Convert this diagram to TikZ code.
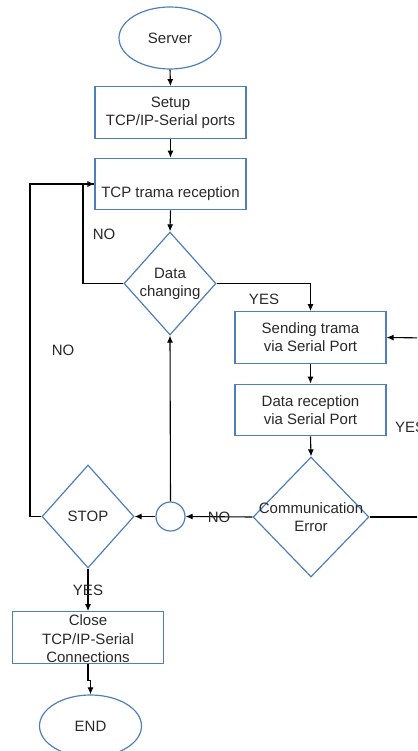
\documentclass[tikz,border=0pt]{standalone}
\usepackage{fontspec}
\setmainfont{Liberation Sans}
\usetikzlibrary{shapes.geometric,arrows.meta}
\definecolor{boxblue}{RGB}{79,127,187}
\definecolor{ink}{RGB}{40,40,40}
\tikzset{
  base/.style={draw=boxblue, line width=1.2pt, inner sep=0pt, text=ink, align=center},
  procbox/.style={base, rectangle, minimum width=151pt, minimum height=51.5pt},
  termnode/.style={base, ellipse, minimum width=102pt, minimum height=62pt},
  decide/.style={base, diamond, minimum width=92pt, minimum height=103pt},
  joint/.style={base, circle, minimum size=29pt},
  inlabel/.style={text=ink, align=center, inner sep=0pt},
  flow/.style={draw=black, line width=1.1pt, -{Latex[length=7pt,width=6pt]}},
  link/.style={draw=black, line width=1.1pt},
  tag/.style={text=ink, inner sep=0pt},
}
\begin{document}
\begin{tikzpicture}[x=1pt, y=-1pt, font=\fontsize{15}{18}\selectfont]
\useasboundingbox (0,0) rectangle (417,751);
\clip (0,0) rectangle (417,751);

% process steps
\node[termnode] (server) at (170,38) {Server};
\node[procbox] (setup) at (170.5,112.5) {Setup\\TCP/IP-Serial ports};
\node[procbox, label={[inlabel, yshift=-10pt]center:TCP trama reception}] (tcp) at (170.5,184) {};
\node[decide, label={[inlabel]center:Data\\changing}] (datach) at (170,283.5) {};
\node[procbox] (sending) at (310.5,337.5) {Sending trama\\via Serial Port};
\node[procbox] (datarec) at (310.5,410) {Data reception\\via Serial Port};
\node[decide, minimum width=116pt, minimum height=120pt,
      label={[inlabel]center:Communication\\Error}] (comm) at (311,517) {};
\node[joint] (circ) at (170.5,516.5) {};
\node[decide, label={[inlabel]center:STOP}] (stop) at (88,516.5) {};
\node[procbox, label={[inlabel, yshift=-1.5pt, font=\fontsize{15}{18.5}\selectfont]center:Close\\TCP/IP-Serial\\Connections}] (close) at (88,637.5) {};
\node[termnode] (endn) at (90.5,726) {END};

% loose ends leaving the right border
\coordinate (outR) at (430,517);
\coordinate (inR) at (430,338);
\coordinate (noturn) at (83,283.5);
\coordinate (stopturn) at (30,516.5);

% connectors
\draw[flow] (server.south) -- (setup.north);
\draw[flow] (setup.south) -- (tcp.north);
\draw[flow] (tcp.south) -- (datach.north);
\draw[link] (datach.west) -- (noturn) |- (tcp.west);
\draw[flow] (stopturn) |- (tcp.west);
\draw[link] (stop.west) -- (stopturn);
\draw[flow] (datach.east) -| (sending.north);
\draw[flow] (sending.south) -- (datarec.north);
\draw[flow] (datarec.south) -- (comm.north);
\draw[link] (comm.east) -- (outR);
\draw[flow] (inR) -- (sending.east);
\draw[flow] (comm.west) -- (circ.east);
\draw[flow] (circ.north) -- (datach.south);
\draw[flow] (circ.west) -- (stop.east);
\draw[flow] (stop.south) -- (close.north);
\draw[flow] (close.south) -- ++(0,17) -| (endn.north);

% branch labels
\node[tag] at (104,234) {NO};
\node[tag] at (264,299) {YES};
\node[tag] at (63,350) {NO};
\node[tag, anchor=west] at (395,427) {YES};
\node[tag] at (219,517) {NO};
\node[tag] at (88,590) {YES};
\end{tikzpicture}
\end{document}
